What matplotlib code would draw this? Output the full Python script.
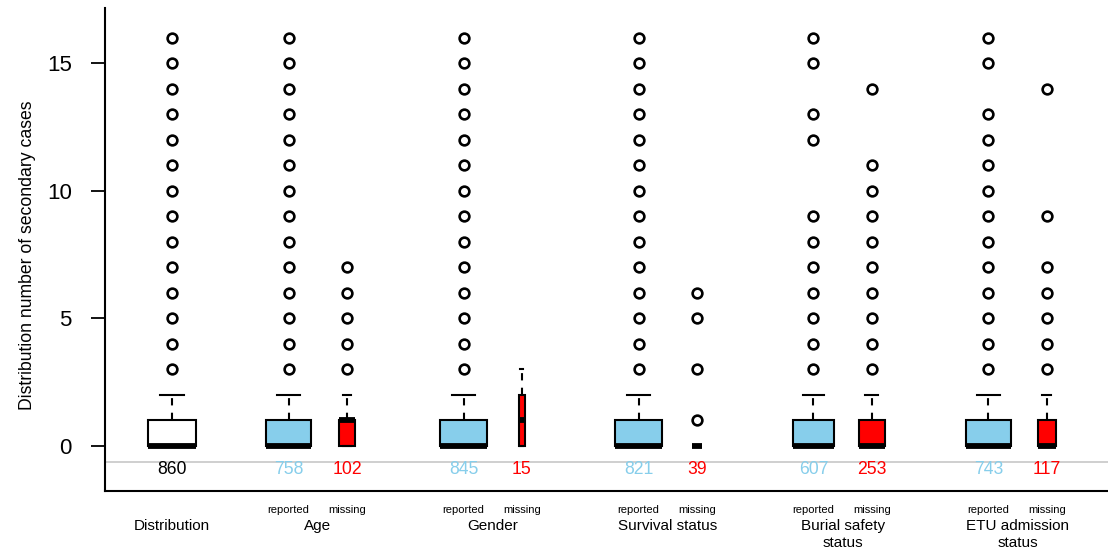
import numpy as np
import matplotlib.pyplot as plt

plt.rcParams['font.family'] = ['Liberation Sans', 'DejaVu Sans']

# Box positions and sample sizes
positions = [1, 3, 4, 6, 7, 9, 10, 12, 13, 15, 16]
counts = [860, 758, 102, 845, 15, 821, 39, 607, 253, 743, 117]
kinds = ['all', 'rep', 'miss', 'rep', 'miss', 'rep', 'miss', 'rep', 'miss', 'rep', 'miss']

# Box summaries (number of secondary cases)
q1 = [0, 0, 0, 0, 0, 0, 0, 0, 0, 0, 0]
med = [0, 0, 1, 0, 1, 0, 0, 0, 0, 0, 0]
q3 = [1, 1, 1, 1, 2, 1, 0, 1, 1, 1, 1]
whislo = [0, 0, 0, 0, 0, 0, 0, 0, 0, 0, 0]
whishi = [2, 2, 2, 2, 3, 2, 0, 2, 2, 2, 2]
fliers = [
    [3, 4, 5, 6, 7, 8, 9, 10, 11, 12, 13, 14, 15, 16],
    [3, 4, 5, 6, 7, 8, 9, 10, 11, 12, 13, 14, 15, 16],
    [3, 4, 5, 6, 7],
    [3, 4, 5, 6, 7, 8, 9, 10, 11, 12, 13, 14, 15, 16],
    [],
    [3, 4, 5, 6, 7, 8, 9, 10, 11, 12, 13, 14, 15, 16],
    [1, 3, 5, 6],
    [3, 4, 5, 6, 7, 8, 9, 12, 13, 15, 16],
    [3, 4, 5, 6, 7, 8, 9, 10, 11, 14],
    [3, 4, 5, 6, 7, 8, 9, 10, 11, 12, 13, 15, 16],
    [3, 4, 5, 6, 7, 9, 14],
]

groups = ['Distribution', 'Age', 'Gender', 'Survival status',
          'Burial safety\nstatus', 'ETU admission\nstatus']
group_pos = [1, 3.5, 6.5, 9.5, 12.5, 15.5]
sub_labels = ['reported', 'missing']

fill = {'all': 'white', 'rep': '#87CEEB', 'miss': '#FF0000'}
txt = {'all': 'black', 'rep': '#87CEEB', 'miss': '#FF0000'}

fig = plt.figure(figsize=(11.08, 5.57), dpi=100)
ax = fig.add_axes([105 / 1108, 66 / 557, 1003 / 1108, 483 / 557])

stats = []
for i in range(len(positions)):
    stats.append(dict(q1=q1[i], med=med[i], q3=q3[i], whislo=whislo[i],
                      whishi=whishi[i], fliers=fliers[i]))

# width grows with sqrt(n), like varwidth in R
widths = [0.82 * np.sqrt(n / 860) for n in counts]
bp = ax.bxp(stats, positions=positions, widths=widths,
            capwidths=[w / 2 for w in widths],
            patch_artist=True, showfliers=True,
            boxprops=dict(edgecolor='black', linewidth=1.5),
            medianprops=dict(color='black', linewidth=4.2, solid_capstyle='butt'),
            whiskerprops=dict(color='black', linewidth=1.5, linestyle=(0, (3.5, 3.5))),
            capprops=dict(color='black', linewidth=1.5),
            flierprops=dict(marker='o', markersize=7, markerfacecolor='none',
                            markeredgecolor='black', markeredgewidth=1.9))
for patch, k in zip(bp['boxes'], kinds):
    patch.set_facecolor(fill[k])

ax.axhline(-0.63, color='#cccccc', linewidth=1.3, zorder=0)

for p, n, k in zip(positions, counts, kinds):
    ax.text(p, -0.94, str(n), color=txt[k], ha='center', va='center', fontsize=12.7)

for p, k in zip(positions, kinds):
    if k == 'rep':
        ax.text(p, -2.51, sub_labels[0], ha='center', va='center', fontsize=8, clip_on=False)
    elif k == 'miss':
        ax.text(p, -2.51, sub_labels[1], ha='center', va='center', fontsize=8, clip_on=False)

for g, gp in zip(groups, group_pos):
    ax.text(gp, -2.86, g, ha='center', va='top', fontsize=11, linespacing=1.25,
            clip_on=False)

ax.set_xlim(-0.149, 17.05)
ax.set_ylim(-1.763, 17.156)
ax.set_xticks([])
ax.set_yticks([0, 5, 10, 15])
ax.tick_params(axis='y', labelsize=16, length=10, width=1.3, pad=14)
ax.spines['top'].set_visible(False)
ax.spines['right'].set_visible(False)
ax.spines['left'].set_linewidth(1.5)
ax.spines['bottom'].set_linewidth(1.5)

fig.text(28 / 1108, 1 - 255 / 557, 'Distribution number of secondary cases',
         rotation=90, ha='center', va='center', fontsize=12.7)

fig.savefig('out.png', dpi=100)
